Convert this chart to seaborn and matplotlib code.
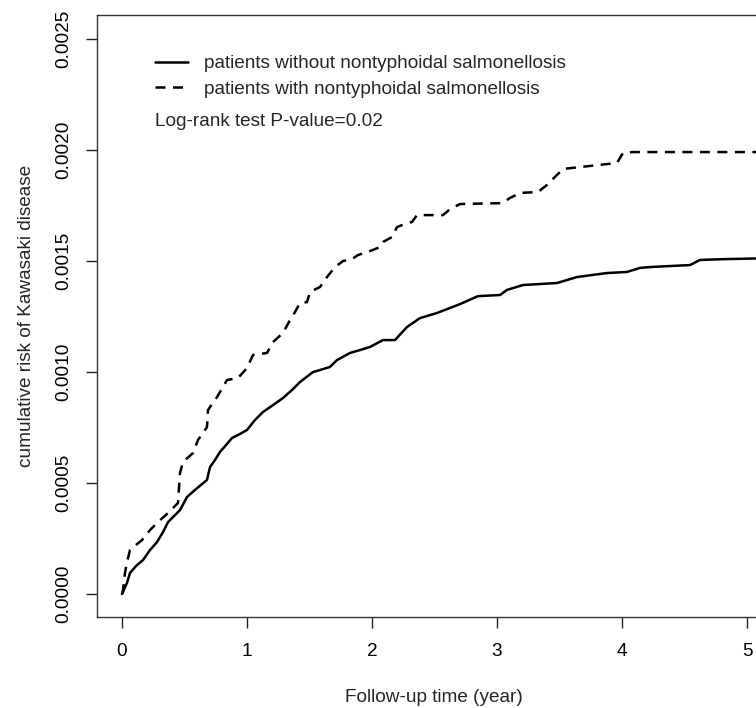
import numpy as np
import pandas as pd
import seaborn as sns
import matplotlib.pyplot as plt

# cumulative risk (time in years, risk x 1e-4)
time_without = [0.000, 0.040, 0.064, 0.112, 0.168, 0.224, 0.280, 0.328, 0.368, 0.416,
                0.464, 0.520, 0.584, 0.680, 0.704, 0.744, 0.784, 0.832, 0.880, 0.944,
                1.000, 1.064, 1.128, 1.208, 1.288, 1.360, 1.424, 1.528, 1.584, 1.664,
                1.720, 1.824, 1.904, 1.984, 2.088, 2.184, 2.280, 2.384, 2.520, 2.704,
                2.848, 3.024, 3.080, 3.208, 3.480, 3.640, 3.880, 4.040, 4.144, 4.224,
                4.544, 4.624, 4.840, 5.300]
risk_without = [0.00, 0.50, 0.95, 1.26, 1.53, 1.98, 2.34, 2.79, 3.24, 3.51,
                3.78, 4.37, 4.69, 5.14, 5.72, 6.04, 6.40, 6.71, 7.03, 7.21,
                7.39, 7.84, 8.20, 8.51, 8.83, 9.19, 9.55, 10.00, 10.09, 10.23,
                10.54, 10.86, 10.99, 11.13, 11.44, 11.44, 12.03, 12.43, 12.66, 13.06,
                13.42, 13.47, 13.70, 13.92, 14.01, 14.28, 14.46, 14.51, 14.69, 14.73,
                14.82, 15.05, 15.09, 15.14]

time_with = [0.000, 0.008, 0.024, 0.040, 0.064, 0.112, 0.160, 0.224, 0.288, 0.368,
             0.448, 0.464, 0.488, 0.568, 0.608, 0.680, 0.688, 0.760, 0.840, 0.928,
             1.000, 1.048, 1.160, 1.208, 1.288, 1.344, 1.384, 1.424, 1.480, 1.504,
             1.584, 1.640, 1.704, 1.768, 1.840, 1.888, 1.984, 2.064, 2.088, 2.160,
             2.200, 2.240, 2.320, 2.360, 2.568, 2.624, 2.704, 3.040, 3.104, 3.184,
             3.328, 3.400, 3.480, 3.528, 3.960, 4.008, 4.080, 5.300]
risk_with = [0.00, 0.18, 0.95, 1.44, 1.98, 2.21, 2.43, 2.88, 3.24, 3.65,
             4.10, 5.45, 5.95, 6.35, 6.94, 7.52, 8.29, 8.87, 9.64, 9.73,
             10.18, 10.77, 10.86, 11.35, 11.76, 12.34, 12.70, 13.11, 13.15, 13.61,
             13.83, 14.28, 14.73, 15.00, 15.09, 15.27, 15.45, 15.63, 15.86, 16.08,
             16.53, 16.62, 16.76, 17.07, 17.07, 17.34, 17.57, 17.61, 17.84, 18.07,
             18.11, 18.43, 18.88, 19.15, 19.42, 19.87, 19.91, 19.91]

labels = ["patients without nontyphoidal salmonellosis",
          "patients with nontyphoidal salmonellosis"]

sns.set_style("ticks")
plt.rcParams['font.family'] = ['Liberation Sans', 'DejaVu Sans']
fs = 13.7

W, H = 756, 708
fig = plt.figure(figsize=(W / 100, H / 100), dpi=100)
# plot region box: left 97px, top 15px, bottom 617px, right cut off by the image edge
ax = fig.add_axes([97 / W, (H - 617) / H, (770 - 97) / W, (617 - 15) / H])

df_without = pd.DataFrame({"time": time_without, "risk": np.array(risk_without) * 1e-4})
df_with = pd.DataFrame({"time": time_with, "risk": np.array(risk_with) * 1e-4})

sns.lineplot(data=df_without, x="time", y="risk", ax=ax, color="black", lw=1.8,
             label=labels[0], estimator=None, sort=False)
sns.lineplot(data=df_with, x="time", y="risk", ax=ax, color="black", lw=1.8,
             label=labels[1], estimator=None, sort=False,
             linestyle=(0, (4, 3)))

ax.set_xlim((97 - 122) / 125, (770 - 122) / 125)
ax.set_ylim(-0.0001036, 0.0026085)
ax.set_xticks([0, 1, 2, 3, 4, 5])
ax.set_yticks([0, 0.0005, 0.0010, 0.0015, 0.0020, 0.0025])
ax.set_yticklabels(["0.0000", "0.0005", "0.0010", "0.0015", "0.0020", "0.0025"],
                   rotation=90, va="center")
ax.tick_params(axis="both", direction="out", length=8, width=1, colors="#222222",
               labelsize=fs, labelcolor="black")
ax.tick_params(axis="x", pad=11)
ax.tick_params(axis="y", pad=10)

for side in ["left", "top", "bottom", "right"]:
    ax.spines[side].set_visible(True)
    ax.spines[side].set_linewidth(1)
    ax.spines[side].set_color("#333333")

ax.set_xlabel("Follow-up time (year)", fontsize=fs, va="center")
ax.set_ylabel("cumulative risk of Kawasaki disease", fontsize=fs, va="center")
ax.xaxis.set_label_coords(0.5, -(697 - 617) / (617 - 15))
ax.yaxis.set_label_coords(-(97 - 27) / (770 - 97), 0.5)

leg = ax.legend(loc="upper left", bbox_to_anchor=(155 / W, 1 - 55 / H),
                bbox_transform=fig.transFigure, frameon=False, fontsize=fs,
                handlelength=1.75, handletextpad=0.8, labelspacing=0.42,
                borderpad=0, borderaxespad=0)
fig.text(155 / W, 1 - 122 / H, "Log-rank test P-value=0.02", fontsize=fs,
         va="center", ha="left")

plt.savefig("out.png", dpi=100)
